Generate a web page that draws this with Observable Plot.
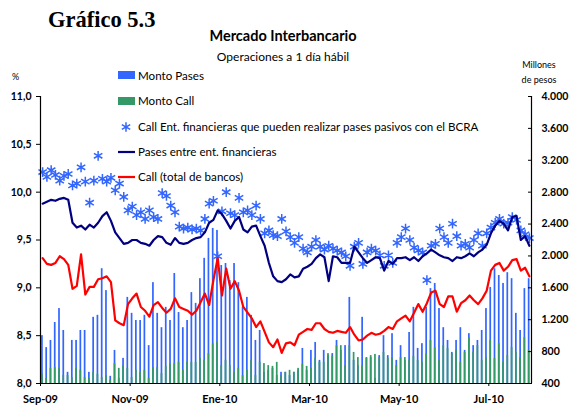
<!DOCTYPE html>
<html>
<head>
<meta charset="utf-8">
<script src="https://cdn.jsdelivr.net/npm/d3@7"></script>
<script src="https://cdn.jsdelivr.net/npm/@observablehq/plot@0.6"></script>
<style>
  body { margin: 0; background: #fff; }
  #wrap { width: 569px; height: 408px; }
</style>
</head>
<body>
<div id="wrap"></div>
<script>
// Business-day index (every second business day), Sep-2009 .. Jul-2010
const tickPos = [0, 21, 42, 63, 84, 105];
const tickLabels = ["Sep-09", "Nov-09", "Ene-10", "Mar-10", "May-10", "Jul-10"];

const leftTicks = [8, 8.5, 9, 9.5, 10, 10.5, 11];
const rightTicks = [400, 800, 1200, 1600, 2000, 2400, 2800, 3200, 3600, 4000];

// Pases entre ent. financieras (%)
const pases = [9.88,9.90,9.92,9.91,9.93,9.94,9.92,9.68,9.63,9.65,
 9.61,9.66,9.63,9.68,9.75,9.79,9.70,9.58,9.52,9.46,
 9.47,9.50,9.50,9.47,9.46,9.44,9.50,9.54,9.53,9.47,
 9.45,9.52,9.47,9.46,9.47,9.50,9.52,9.53,9.58,9.68,
 9.71,9.81,9.77,9.70,9.62,9.70,9.74,9.61,9.58,9.64,
 9.65,9.54,9.44,9.26,9.12,9.07,9.06,9.09,9.14,9.11,
 9.12,9.20,9.22,9.25,9.31,9.35,9.32,9.07,9.33,9.32,
 9.26,9.26,9.26,9.43,9.37,9.31,9.26,9.29,9.32,9.31,
 9.18,9.28,9.25,9.31,9.31,9.32,9.29,9.32,9.28,9.33,
 9.36,9.40,9.37,9.34,9.32,9.31,9.28,9.32,9.31,9.33,
 9.36,9.33,9.37,9.40,9.45,9.57,9.65,9.70,9.67,9.60,
 9.74,9.75,9.50,9.54,9.44];

// Call (total de bancos) (%)
const callTotal = [9.31,9.25,9.24,9.26,9.33,9.30,9.24,8.99,9.02,9.35,
 8.93,9.01,9.01,9.09,9.10,9.12,9.06,8.66,8.63,8.61,
 8.83,8.89,8.94,8.80,8.76,8.70,8.82,8.85,8.79,8.74,
 8.78,8.89,8.80,8.78,8.76,8.72,8.76,8.85,8.94,8.82,
 9.08,9.31,8.92,9.20,8.99,9.07,8.97,8.80,8.74,8.68,
 8.59,8.65,8.54,8.43,8.38,8.46,8.32,8.42,8.43,8.40,
 8.51,8.54,8.57,8.56,8.63,8.63,8.57,8.54,8.53,8.55,
 8.54,8.53,8.59,8.51,8.45,8.46,8.50,8.53,8.51,8.52,
 8.55,8.59,8.57,8.65,8.68,8.71,8.65,8.74,8.83,8.75,
 8.84,8.95,8.97,8.83,8.80,8.91,8.91,8.75,8.84,8.87,
 8.92,8.87,8.83,8.89,8.97,9.18,9.24,9.26,9.18,9.22,
 9.29,9.30,9.18,9.21,9.12];

// Call Ent. financieras que pueden realizar pases pasivos con el BCRA (%)
const callEnt = [10.21,10.16,10.23,10.18,10.12,10.17,10.19,10.07,10.09,10.26,
 10.11,9.89,10.12,10.38,10.14,10.11,10.15,10.02,10.09,9.95,
 9.81,9.85,9.76,9.79,9.72,9.81,9.74,9.72,9.99,9.96,
 9.86,9.79,9.64,9.62,9.63,9.61,9.62,9.60,9.72,9.88,
 9.91,9.33,9.80,10.00,9.78,9.76,9.94,9.79,9.81,9.76,
 9.86,9.72,9.57,9.60,9.55,9.54,9.72,9.59,9.53,9.47,
 9.53,9.41,9.37,9.43,9.50,9.43,9.40,9.44,9.41,9.39,
 9.37,9.33,9.23,9.43,9.47,9.25,9.37,9.41,9.39,9.34,
 9.23,9.34,9.26,9.47,9.53,9.62,9.50,9.42,9.39,9.37,
 9.08,9.44,9.46,9.62,9.53,9.47,9.67,9.54,9.44,9.46,
 9.42,9.50,9.57,9.44,9.57,9.63,9.68,9.72,9.67,9.68,
 9.74,9.71,9.60,9.56,9.52];

// Monto Pases (millones de pesos)
const montoPases = [1000,850,940,1165,1340,1065,540,940,940,1065,
 1065,540,1230,1255,1840,1565,490,815,465,715,
 1480,1280,1190,1190,1255,875,1665,1280,1100,1355,
 1190,1780,1290,1100,1190,1540,1405,1715,1970,2220,
 2345,2320,1880,1905,1690,1905,1665,1355,1480,1255,
 940,1065,540,565,590,500,540,540,500,540,
 565,840,565,815,915,690,815,750,775,940,
 815,875,1480,690,625,1230,725,725,465,750,
 1000,750,1025,690,875,690,1040,1355,840,900,
 1355,1590,1655,1340,1100,940,790,940,1100,815,
 1025,875,940,1065,1340,1605,1840,1755,1655,1790,
 1715,1280,1065,1590,1715];

// Monto Call (millones de pesos)
const montoCall = [525,465,590,600,590,500,500,475,590,565,
 475,465,540,515,475,500,440,650,590,625,
 590,475,565,540,565,465,600,600,525,615,
 650,650,665,565,665,665,665,715,690,775,
 900,915,625,690,625,540,590,500,565,690,
 500,665,650,625,615,665,500,540,565,540,
 590,640,615,590,715,665,665,775,740,875,
 875,625,875,790,725,625,715,750,765,725,
 790,715,725,625,725,725,690,740,690,665,
 775,940,850,690,875,840,775,815,665,790,
 975,790,875,690,725,940,715,900,665,750,
 850,790,725,975,815];

const N = pases.length;
const data = d3.range(N).map(i => ({
  i, pases: pases[i], call: callTotal[i], ent: callEnt[i],
  mp: montoPases[i], mc: montoCall[i]
}));

// right axis (millones) mapped onto left axis (%) scale
const toL = v => 8 + (v - 400) * 3 / 3600;
const fmtRight = v => v >= 1000 ? `${Math.floor(v / 1000)}.${String(v % 1000).padStart(3, "0")}` : `${v}`;
const fmtLeft = v => v.toFixed(1).replace(".", ",");

const BLUE = "#3366ff", GREEN = "#339966", NAVY = "#000080", RED = "#ff0000";
const FONT = "Lato, 'DejaVu Sans', sans-serif";

const chart = Plot.plot({
  width: 569,
  height: 408,
  marginLeft: 40,
  marginRight: 38,
  marginTop: 96,
  marginBottom: 25,
  x: {domain: [0, N], axis: null},
  y: {domain: [8, 11], axis: null},
  style: {fontFamily: FONT, background: "white", color: "black"},
  marks: [
    Plot.rectY(data, {x1: d => d.i + 0.25, x2: d => d.i + 0.65, y1: 8, y2: d => toL(d.mp), fill: BLUE}),
    Plot.rectY(data, {x1: d => d.i + 0.25, x2: d => d.i + 0.65, y1: 8, y2: d => toL(d.mc), fill: GREEN}),
    Plot.dot(data, {x: d => d.i + 0.5, y: "ent", symbol: "asterisk", r: 4.6, stroke: BLUE, strokeWidth: 1.5}),
    Plot.line(data, {x: d => d.i + 0.5, y: "pases", stroke: NAVY, strokeWidth: 2.2}),
    Plot.line(data, {x: d => d.i + 0.5, y: "call", stroke: RED, strokeWidth: 2.2}),
    Plot.ruleY([8], {stroke: "black", strokeWidth: 1.2}),
    Plot.ruleX([0, N], {stroke: "black", strokeWidth: 1.2}),
    Plot.axisY({anchor: "left", ticks: leftTicks, tickSize: 4, tickPadding: 5,
      tickFormat: fmtLeft, fontWeight: "bold", fontSize: 10.5}),
    Plot.axisY({anchor: "right", ticks: rightTicks.map(toL), tickSize: 4, dx: -4, tickFormat: () => ""}),
    Plot.axisY({anchor: "right", ticks: rightTicks.map(toL), tickSize: 0, tickPadding: 10,
      tickFormat: v => fmtRight(Math.round((v - 8) * 1200 + 400)), fontWeight: "bold", fontSize: 10.5, textAnchor: "start"}),
    Plot.axisX({ticks: tickPos, tickSize: 3, tickPadding: 9,
      tickFormat: v => tickLabels[tickPos.indexOf(v)], fontWeight: "bold", fontSize: 11})
  ]
});

const svg = d3.select(chart);
function txt(x, y, s, opts = {}) {
  svg.append("text").attr("x", x).attr("y", y)
    .attr("font-family", opts.family || FONT)
    .attr("font-size", opts.size || 11.6)
    .attr("font-weight", opts.weight || "normal")
    .attr("text-anchor", opts.anchor || "start")
    .attr("fill", "black")
    .text(s);
}
txt(48, 27, "Gráfico 5.3", {family: "'Liberation Serif', 'Times New Roman', serif", size: 22.5, weight: "bold"});
txt(283, 41, "Mercado Interbancario", {size: 14.5, weight: "bold", anchor: "middle"});
txt(283, 61, "Operaciones a 1 día hábil", {size: 12, anchor: "middle"});
txt(12, 80, "%", {size: 9});
txt(539, 68, "Millones", {size: 9, anchor: "middle"});
txt(539, 83, "de pesos", {size: 9, anchor: "middle"});

// legend
const leg = svg.append("g");
leg.append("rect").attr("x", 118).attr("y", 71).attr("width", 17).attr("height", 8).attr("fill", BLUE);
txt(138, 80, "Monto Pases");
leg.append("rect").attr("x", 118).attr("y", 97).attr("width", 17).attr("height", 8).attr("fill", GREEN);
txt(138, 105, "Monto Call");
leg.append("path").attr("transform", "translate(126,127)")
  .attr("d", d3.symbol(d3.symbolAsterisk, 66)()).attr("stroke", BLUE).attr("stroke-width", 1.5).attr("fill", "none");
txt(138, 131, "Call Ent. financieras que pueden realizar pases pasivos con el BCRA");
leg.append("line").attr("x1", 118).attr("x2", 135).attr("y1", 152).attr("y2", 152).attr("stroke", NAVY).attr("stroke-width", 2.2);
txt(138, 156, "Pases entre ent. financieras");
leg.append("line").attr("x1", 118).attr("x2", 135).attr("y1", 177).attr("y2", 177).attr("stroke", RED).attr("stroke-width", 2.2);
txt(138, 181, "Call (total de bancos)");

document.getElementById("wrap").appendChild(chart);
</script>
</body>
</html>
